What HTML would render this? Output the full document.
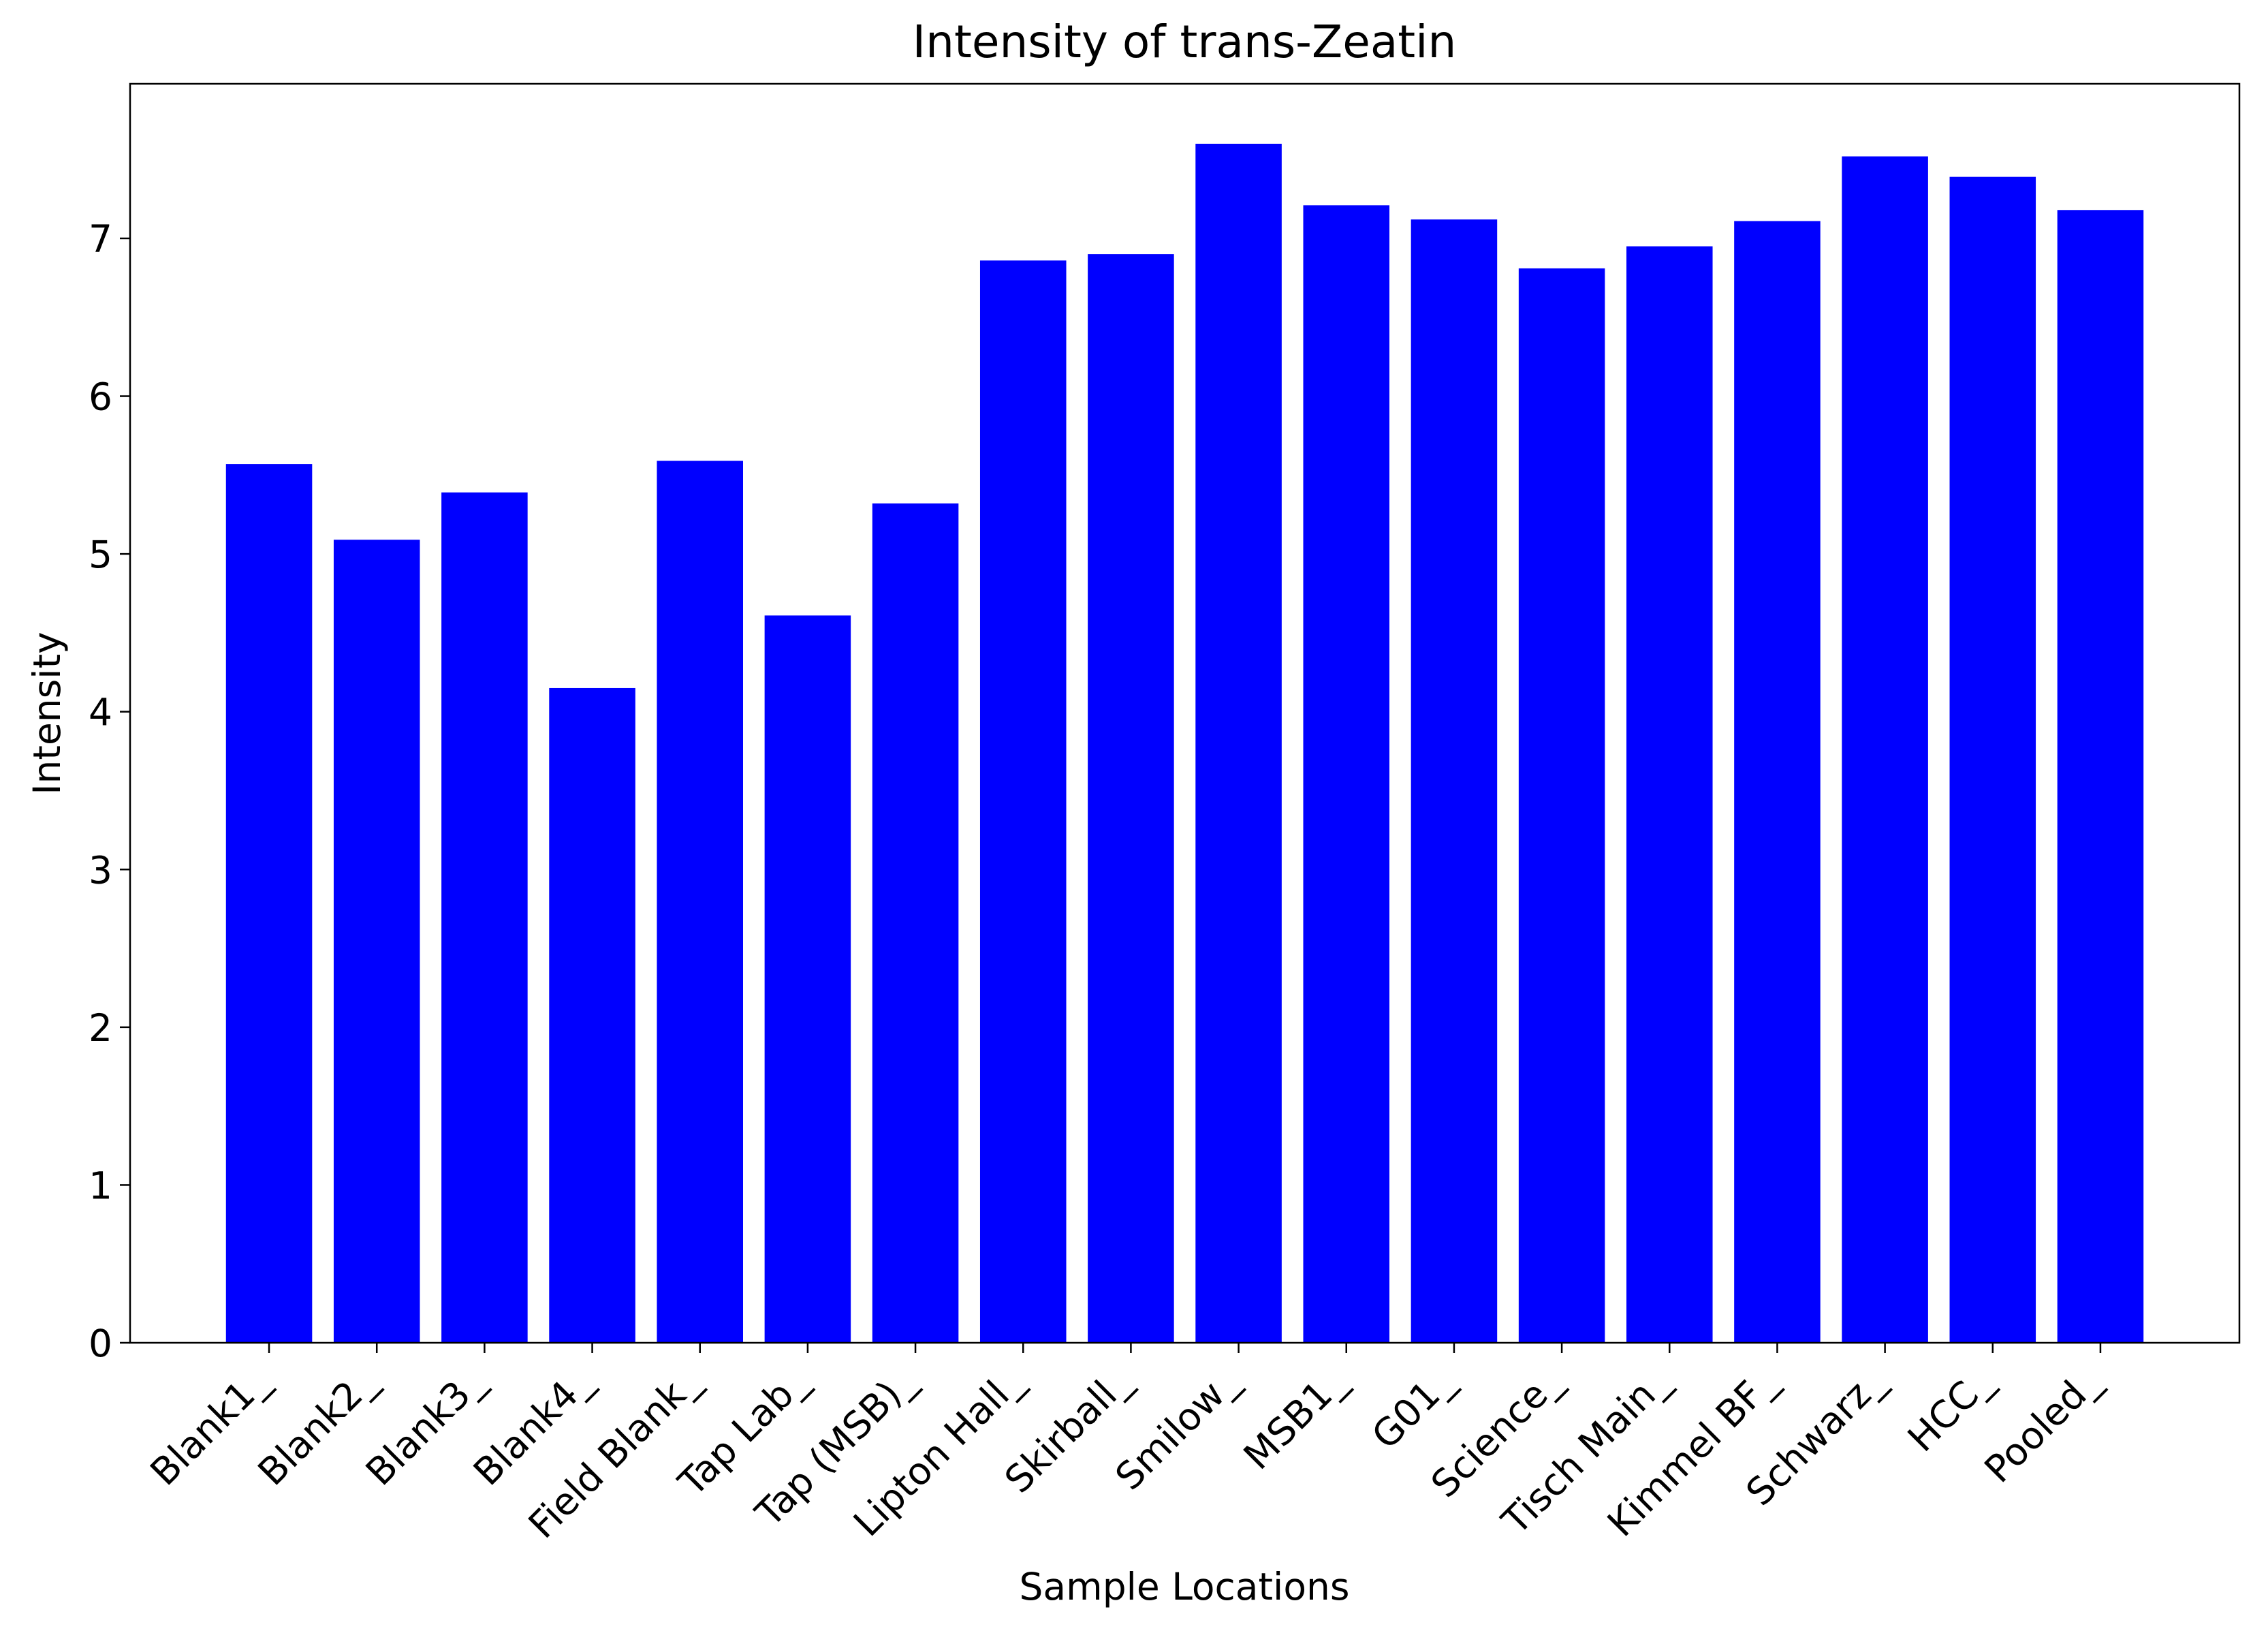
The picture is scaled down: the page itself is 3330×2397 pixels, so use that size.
<!DOCTYPE html>
<html><head><meta charset="utf-8"><style>
body{margin:0;background:#fff}
svg{display:block;font-family:"DejaVu Sans","Liberation Sans",sans-serif}
</style></head><body>
<svg id="chart" width="3330" height="2397" viewBox="0 0 3330 2397">
<rect width="3330" height="2397" fill="#fff"/>
<text x="1739" y="84" font-size="66" text-anchor="middle">Intensity of trans-Zeatin</text>
<g id="bars"></g><g id="xticks"></g><g id="yticks"></g>
<rect x="191" y="123" width="3097" height="1848" fill="none" stroke="#000" stroke-width="2.5"/>
<text x="1739" y="2348" font-size="55" text-anchor="middle">Sample Locations</text>
<text transform="translate(88,1047) rotate(-90)" font-size="55" text-anchor="middle">Intensity</text>
</svg>
<script>
const categories=["Blank1_","Blank2_","Blank3_","Blank4_","Field Blank_","Tap Lab_","Tap (MSB)_","Lipton Hall_","Skirball_","Smilow_","MSB1_","G01_","Science_","Tisch Main_","Kimmel BF_","Schwarz_","HCC_","Pooled_"];
const values=[5.57,5.09,5.39,4.15,5.59,4.61,5.32,6.86,6.90,7.60,7.21,7.12,6.81,6.95,7.11,7.52,7.39,7.18];
const yTicks=[0,1,2,3,4,5,6,7];
const L=191,R=3288,T=123,B=1971;
const ymax=Math.max(...values)*1.05;
const n=categories.length;
const xmin=-0.4-0.05*(n-0.2),xmax=n-1+0.4+0.05*(n-0.2);
const xs=v=>L+(v-xmin)/(xmax-xmin)*(R-L);
const ys=v=>B-v/ymax*(B-T);
const NS="http://www.w3.org/2000/svg";
const bars=document.getElementById('bars'),xt=document.getElementById('xticks'),yt=document.getElementById('yticks');
function mk(tag,attrs){const e=document.createElementNS(NS,tag);for(const k in attrs)e.setAttribute(k,attrs[k]);return e;}
values.forEach((v,i)=>{
  const x0=xs(i-0.4),x1=xs(i+0.4);
  const r=mk('rect',{x:x0,y:ys(v),width:x1-x0,height:B-ys(v),fill:'#0000ff'});
  
  
  bars.appendChild(r);
  const cx=xs(i);
  const t=mk('line',{x1:cx,x2:cx,y1:B,y2:B+15,stroke:'#000','stroke-width':2.5});
  
  
  xt.appendChild(t);
  const lb=mk('text',{'font-size':55,'text-anchor':'end',transform:`translate(${cx+2},${B+60}) rotate(-45)`});
  lb.textContent=categories[i];
  
  
  xt.appendChild(lb);
});
yTicks.forEach(v=>{
  const y=ys(v);
  const t=mk('line',{x1:L-15,x2:L,y1:y,y2:y,stroke:'#000','stroke-width':2.5});
  
  
  yt.appendChild(t);
  const lb=mk('text',{x:L-26,y:y+20,'font-size':55,'text-anchor':'end'});
  lb.textContent=v;
  
  
  yt.appendChild(lb);
});
</script>
</body></html>
